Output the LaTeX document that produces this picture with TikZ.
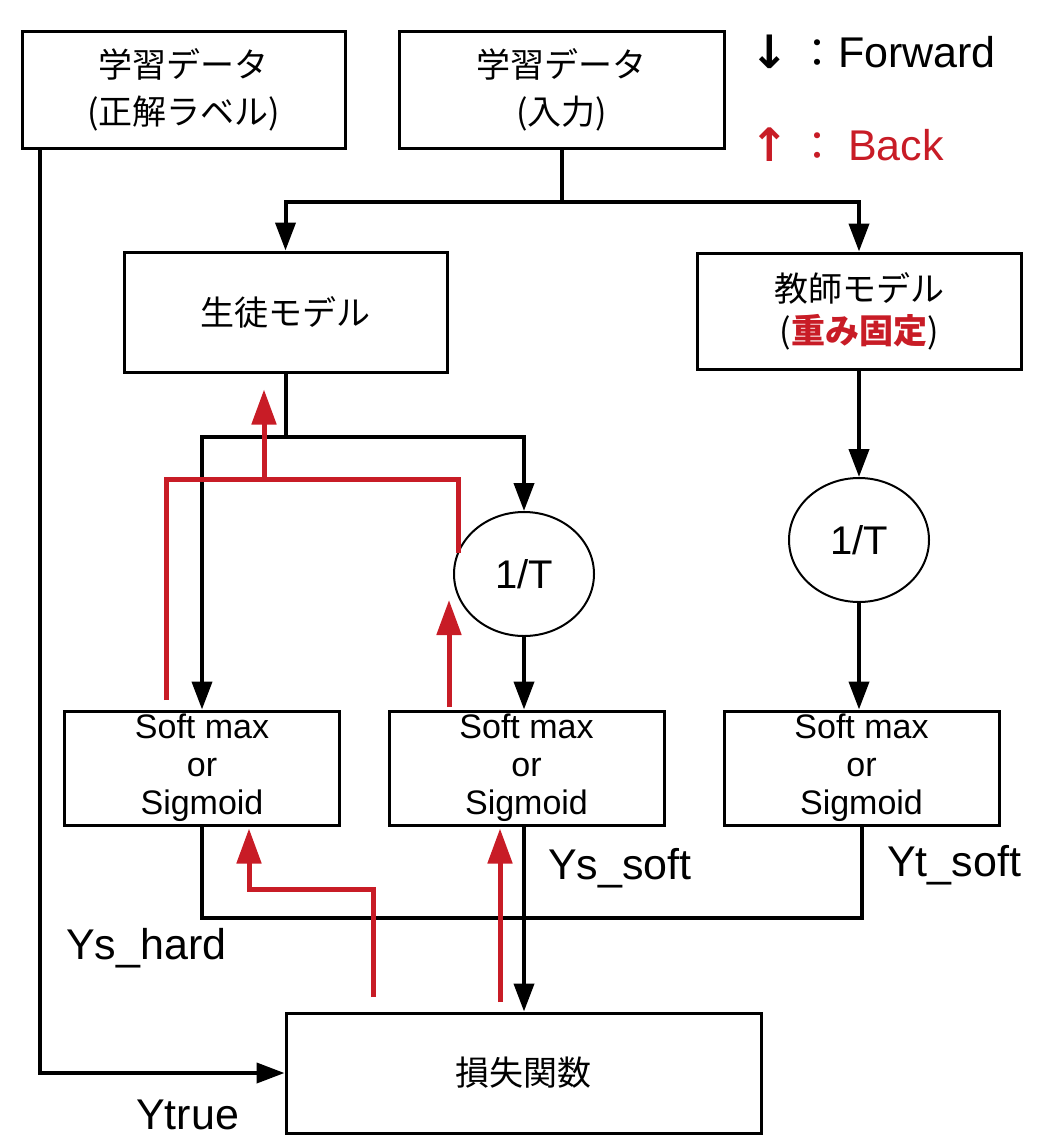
\documentclass[tikz,border=0pt]{standalone}
\usepackage{fontspec}
\setmainfont{Liberation Sans}
\newfontfamily\cjk{Noto Sans CJK JP}
\newfontfamily\symf{DejaVu Sans}
\usetikzlibrary{arrows.meta,calc,shapes.geometric}
\definecolor{bred}{RGB}{200,28,38}
\begin{document}
\begin{tikzpicture}[x=1pt,y=-1pt,
  box/.style={draw, line width=3pt, inner sep=0pt, align=center},
  jpbox/.style={box, font=\cjk\fontsize{34}{47}\selectfont},
  circ/.style={draw, ellipse, line width=2pt, inner sep=0pt, minimum width=140pt, minimum height=124pt, font=\fontsize{40}{44}\selectfont},
  smbox/.style={box, font=\fontsize{34}{38}\selectfont, minimum width=275pt, minimum height=114pt},
  lbl/.style={font=\fontsize{43}{50}\selectfont, inner sep=0pt, anchor=west},
  fl/.style={line width=4pt},
  fw/.style={line width=4pt, -{Triangle[length=28pt,width=20pt]}},
  bl/.style={draw=bred, line width=5pt},
  bk/.style={draw=bred, line width=5pt, -{Triangle[length=35pt,width=24pt]}}
]
\useasboundingbox (0,0) rectangle (1041,1148);

% boxes
\node[jpbox, minimum width=323pt, minimum height=116pt] (lab) at (183.5,90) {学習データ\\(正解ラベル)};
\node[jpbox, minimum width=325pt, minimum height=117pt] (inp) at (561.5,90) {学習データ\\(入力)};
\node[jpbox, minimum width=323pt, minimum height=120pt] (stu) at (285.5,312) {生徒モデル};
\node[box, font=\cjk\fontsize{34}{42}\selectfont, minimum width=324pt, minimum height=116pt] (tea) at (859,311) {教師モデル\\(\textcolor{bred}{\bfseries 重み固定})};
\node[circ] (c1) at (524,574) {1/T};
\node[circ] (c2) at (859,540) {1/T};
\node[smbox] (sA) at (202,768) {Soft max\\or\\Sigmoid};
\node[smbox] (sB) at (526.5,768) {Soft max\\or\\Sigmoid};
\node[smbox] (sC) at (861.5,768) {Soft max\\or\\Sigmoid};
\node[jpbox, minimum width=475pt, minimum height=120pt] (loss) at (523.5,1073) {損失関数};

% legend
\node[inner sep=0pt, font=\symf\bfseries\fontsize{46}{50}\selectfont] (fa) at (770,52) {↓};
\node[inner sep=0pt, font=\cjk\fontsize{40}{44}\selectfont] (fc) at (817,54) {：};
\node[inner sep=0pt, anchor=west, font=\fontsize{43}{50}\selectfont] (ft) at (838,52) {Forward};
\node[inner sep=0pt, font=\symf\bfseries\fontsize{46}{50}\selectfont, text=bred] (ba) at (770,145) {↑};
\node[inner sep=0pt, font=\cjk\fontsize{40}{44}\selectfont, text=bred] (bc) at (817,147) {：};
\node[inner sep=0pt, anchor=west, font=\fontsize{43}{50}\selectfont, text=bred] (bt) at (848,145) {Back};

% labels
\node[lbl] (lys) at (548,868) {Ys\_soft};
\node[lbl] (lyt) at (887,865) {Yt\_soft};
\node[lbl] (lyh) at (66,948) {Ys\_hard};
\node[lbl] (lyr) at (136,1115) {Ytrue};

% forward connectors
\coordinate (j1) at (561.5,202);
\draw[fl] (inp.south) -- (j1);
\draw[fw] (j1) -| (stu.north);
\draw[fw] (j1) -| (tea.north);
\coordinate (j2) at (285.5,437);
\draw[fl] (stu.south) -- (j2);
\draw[fw] (j2) -| (sA.north);
\draw[fw] (j2) -| (c1.north);
\draw[fw] (tea.south) -- (c2.north);
\draw[fw] (c2.south) -- (c2.south |- sC.north);
\draw[fw] (c1.south) -- (c1.south |- sB.north);
\coordinate (j3) at (524,918);
\draw[fl] (sA.south) |- (j3);
\draw[fl] (sC.south) |- (j3);
\draw[fl] (j3 |- sB.south) -- (j3);
\draw[fw] (j3) -- (j3 |- loss.north);
\coordinate (t1) at (40,1073);
\draw[fw] (t1 |- lab.south) -- (t1) -- (loss.west);

% back connectors
\coordinate (r1a) at (166,700);
\coordinate (r1b) at (166,479);
\coordinate (r1c) at (458,479);
\coordinate (r1d) at (458,553);
\draw[bl] (r1a) -- (r1b) -- (r1c) -- (r1d);
\coordinate (r1m) at (264,479);
\draw[bk] (r1m) -- ($(stu.south)+(-21.5,16)$);
\coordinate (r2a) at (449,707);
\draw[bk] (r2a) -- ($(c1.center)+(-75,26)$);
\coordinate (r3a) at (373,997);
\coordinate (r3b) at (373,889);
\draw[bk] (r3a) -- (r3b) -| ($(sA.south)+(47,2)$);
\coordinate (r4a) at (500,1002);
\draw[bk] (r4a) -- ($(sB.south)+(-26.5,2)$);
\end{tikzpicture}
\end{document}
